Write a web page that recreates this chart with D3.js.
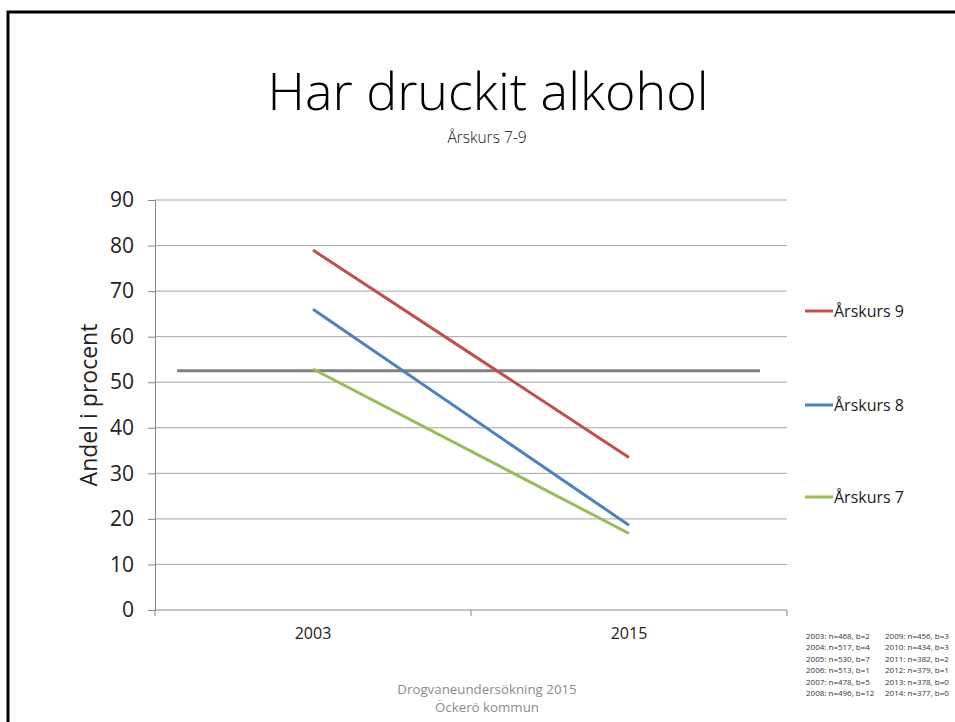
<!DOCTYPE html>
<html>
<head>
<meta charset="utf-8">
<script src="https://cdn.jsdelivr.net/npm/d3@7"></script>
<style>
  html, body { margin: 0; background: #fff; overflow: hidden; }
  svg { display: block; font-family: "Open Sans", "DejaVu Sans", sans-serif; }
</style>
</head>
<body>
<div id="chart"></div>
<script>
// chart data
var years = ["2003", "2015"];
var seriesNames = ["Årskurs 9", "Årskurs 8", "Årskurs 7"];
var ak9 = [79, 33.5];
var ak8 = [66, 18.6];
var ak7 = [52.9, 16.8];
var refValue = 52.5;
var yTicks = [0, 10, 20, 30, 40, 50, 60, 70, 80, 90];
var notesLeft = ["2003: n=468, b=2", "2004: n=517, b=4", "2005: n=530, b=7",
                 "2006: n=513, b=1", "2007: n=478, b=5", "2008: n=496, b=12"];
var notesRight = ["2009: n=456, b=3", "2010: n=434, b=3", "2011: n=382, b=2",
                  "2012: n=379, b=1", "2013: n=378, b=0", "2014: n=377, b=0"];

var colors = ["#c0504d", "#4f81bd", "#9bbb59"];
var seriesValues = [ak9, ak8, ak7];

var width = 955, height = 722;
var plot = {left: 155, right: 787, top: 200, bottom: 610};

var svg = d3.select("#chart").append("svg")
    .attr("width", width)
    .attr("height", height);

// slide frame (only top and left edges are visible)
svg.append("path")
    .attr("d", "M8," + height + "V12H" + width)
    .style("fill", "none")
    .style("stroke", "#000")
    .style("stroke-width", 3);

// scales
var x = d3.scaleBand().domain(years).range([plot.left, plot.right]);
var y = d3.scaleLinear().domain([0, 90]).range([plot.bottom, plot.top]);

// gridlines
svg.append("g").selectAll("line")
    .data(yTicks.filter(function(d) { return d > 0; }))
    .join("line")
    .attr("x1", plot.left).attr("x2", plot.right)
    .attr("y1", function(d) { return y(d); })
    .attr("y2", function(d) { return y(d); })
    .style("stroke", "#a6a6a6")
    .style("stroke-width", 1);

// y axis
var yAxis = svg.append("g")
    .attr("transform", "translate(" + plot.left + ",0)")
    .call(d3.axisLeft(y).tickValues(yTicks).tickSize(7).tickPadding(14));
yAxis.select(".domain").style("stroke", "#868686");
yAxis.selectAll(".tick line").style("stroke", "#868686");
yAxis.selectAll(".tick text")
    .style("font-size", "21px")
    .style("fill", "#222")
    .style("font-family", "'Open Sans', sans-serif");

// x axis
var xAxis = svg.append("g")
    .attr("transform", "translate(0," + plot.bottom + ")")
    .call(d3.axisBottom(x).tickSize(0).tickPadding(18));
xAxis.select(".domain").style("stroke", "#868686").attr("d", "M" + plot.left + ",0H" + plot.right);
xAxis.selectAll(".tick text")
    .style("font-size", "16px")
    .style("fill", "#222")
    .style("font-family", "'Open Sans', sans-serif");
// category boundary ticks
var bounds = [plot.left, plot.left + x.step(), plot.right];
xAxis.selectAll(".bound")
    .data(bounds)
    .join("line")
    .attr("class", "bound")
    .attr("x1", function(d) { return d; }).attr("x2", function(d) { return d; })
    .attr("y1", 0).attr("y2", 6)
    .style("stroke", "#868686");

// y axis title
svg.append("text")
    .attr("transform", "translate(97," + y(45) + ") rotate(-90)")
    .attr("text-anchor", "middle")
    .style("font-size", "23px")
    .style("fill", "#222")
    .text("Andel i procent");

// reference line
svg.append("line")
    .attr("x1", x("2003") + x.bandwidth() / 2 - 136)
    .attr("x2", x("2015") + x.bandwidth() / 2 + 131)
    .attr("y1", y(refValue)).attr("y2", y(refValue))
    .style("stroke", "#808080")
    .style("stroke-width", 3);

// series lines
var line = d3.line()
    .x(function(d, i) { return x(years[i]) + x.bandwidth() / 2; })
    .y(function(d) { return y(d); });

svg.append("g").selectAll("path")
    .data(seriesValues)
    .join("path")
    .attr("d", function(d) { return line(d); })
    .style("fill", "none")
    .style("stroke", function(d, i) { return colors[i]; })
    .style("stroke-width", 3);

// legend
var legendY = [311, 405, 497];
var legend = svg.append("g").selectAll("g")
    .data(seriesNames)
    .join("g")
    .attr("transform", function(d, i) { return "translate(805," + legendY[i] + ")"; });
legend.append("line")
    .attr("x1", 0).attr("x2", 28)
    .style("stroke", function(d, i) { return colors[i]; })
    .style("stroke-width", 3);
legend.append("text")
    .attr("x", 29).attr("dy", "0.35em")
    .style("font-size", "16px")
    .style("fill", "#222")
    .text(function(d) { return d; });

// title
svg.append("text")
    .attr("x", 488).attr("y", 110)
    .attr("text-anchor", "middle")
    .style("font-size", "52px")
    .style("font-weight", 300)
    .style("fill", "#000")
    .text("Har druckit alkohol");

svg.append("text")
    .attr("x", 487).attr("y", 143)
    .attr("text-anchor", "middle")
    .style("font-size", "15.5px")
    .style("font-weight", 300)
    .style("fill", "#111")
    .text("Årskurs 7-9");

// sample size notes
var notes = svg.append("g").style("font-size", "8px").style("fill", "#333");
notes.selectAll(".nl")
    .data(notesLeft)
    .join("text")
    .attr("class", "nl")
    .attr("x", 806)
    .attr("y", function(d, i) { return 639 + i * 11.4; })
    .text(function(d) { return d; });
notes.selectAll(".nr")
    .data(notesRight)
    .join("text")
    .attr("class", "nr")
    .attr("x", 885)
    .attr("y", function(d, i) { return 639 + i * 11.4; })
    .text(function(d) { return d; });

// footer
svg.append("text")
    .attr("x", 487).attr("y", 694)
    .attr("text-anchor", "middle")
    .style("font-size", "13.3px")
    .style("fill", "#8c8c8c")
    .text("Drogvaneundersökning 2015");
svg.append("text")
    .attr("x", 487).attr("y", 712)
    .attr("text-anchor", "middle")
    .style("font-size", "13.3px")
    .style("fill", "#8c8c8c")
    .text("Öckerö kommun");
</script>
</body>
</html>
